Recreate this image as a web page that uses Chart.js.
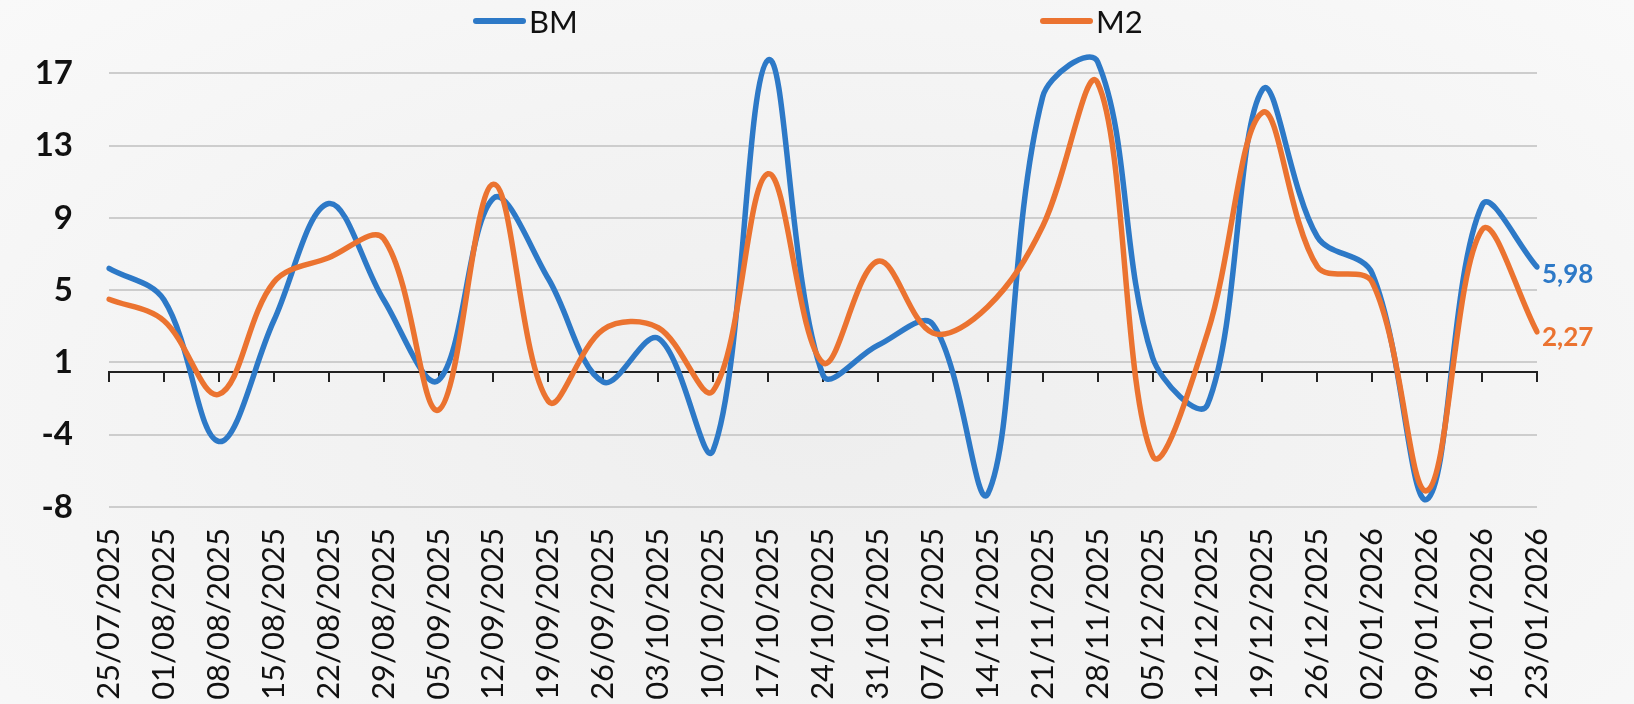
<!DOCTYPE html>
<html>
<head>
<meta charset="utf-8">
<script src="https://cdn.jsdelivr.net/npm/chart.js@4.4.1/dist/chart.umd.min.js"></script>
<style>
  html, body { margin: 0; padding: 0; }
  body {
    width: 1634px; height: 704px; overflow: hidden;
    font-family: Lato, sans-serif;
    background: radial-gradient(ellipse at 50% 60%, #eeeeee 0%, #f3f3f3 50%, #f9f9f9 100%);
  }
  #wrap { position: relative; width: 1634px; height: 704px; }
  .legenda {
    position: absolute; top: 5px; height: 32px;
    display: flex; align-items: center;
    font-size: 31px; color: #111;
  }
  .legenda .linha {
    display: inline-block; width: 53px; height: 6px;
    border-radius: 3px; margin-right: 3px;
  }
</style>
</head>
<body>
<div id="wrap">
  <div class="legenda" style="left:473px"><span class="linha" style="background:#2D79C7"></span>BM</div>
  <div class="legenda" style="left:1040px"><span class="linha" style="background:#EB7330"></span>M2</div>
  <canvas id="grafico" width="1634" height="704"></canvas>
</div>
<script>
var datas = [
    "25/07/2025", "01/08/2025", "08/08/2025", "15/08/2025", "22/08/2025", "29/08/2025",
    "05/09/2025", "12/09/2025", "19/09/2025", "26/09/2025", "03/10/2025", "10/10/2025",
    "17/10/2025", "24/10/2025", "31/10/2025", "07/11/2025", "14/11/2025", "21/11/2025",
    "28/11/2025", "05/12/2025", "12/12/2025", "19/12/2025", "26/12/2025", "02/01/2026",
    "09/01/2026", "16/01/2026", "23/01/2026"
];

var serieBM = [5.9, 4.1, -4.0, 2.9, 9.6, 4.1, -0.5, 9.9, 5.3, -0.6, 1.9, -4.5, 17.8, -0.2,
    1.5, 2.7, -7.0, 15.7, 17.7, 0.8, -1.9, 16.1, 7.7, 5.6, -7.3, 9.5, 5.98];

var serieM2 = [4.13, 2.9, -1.3, 5.1, 6.5, 7.6, -2.2, 10.7, -1.7, 2.4, 2.5, -1.1, 11.3, 0.5,
    6.3, 2.2, 3.7, 8.3, 16.5, -4.8, 2.2, 14.8, 6.0, 5.1, -6.8, 8.1, 2.27];

// linhas de grade do eixo Y e os rotulos que aparecem nelas
var marcasY = [-7.74, -3.61, 0.52, 4.65, 8.78, 12.91, 17.04];
var rotulosY = ["-8", "-4", "1", "5", "9", "13", "17"];

var azul = "#2D79C7";
var laranja = "#EB7330";

// escreve o ultimo valor de cada serie ao lado do fim da linha
var rotuloFinal = {
    id: "rotuloFinal",
    afterDatasetsDraw: function (chart) {
        var ctx = chart.ctx;
        ctx.save();
        ctx.font = "bold 26px Lato";
        ctx.textAlign = "left";
        ctx.textBaseline = "middle";
        chart.data.datasets.forEach(function (ds, i) {
            var meta = chart.getDatasetMeta(i);
            var ponto = meta.data[meta.data.length - 1];
            var valor = ds.data[ds.data.length - 1];
            ctx.fillStyle = ds.borderColor;
            ctx.fillText(valor.toFixed(2).replace(".", ","), ponto.x + 5, ponto.y + ds.rotuloDy);
        });
        ctx.restore();
    }
};

Chart.defaults.font.family = "Lato";

new Chart(document.getElementById("grafico"), {
    type: "line",
    data: {
        labels: datas,
        datasets: [{
            label: "BM",
            data: serieBM,
            borderColor: azul,
            borderWidth: 5.5,
            tension: 0.36,
            pointRadius: 0,
            borderCapStyle: "round",
            borderJoinStyle: "round",
            order: 1,
            rotuloDy: 8
        }, {
            label: "M2",
            data: serieM2,
            borderColor: laranja,
            borderWidth: 5.5,
            tension: 0.36,
            pointRadius: 0,
            borderCapStyle: "round",
            borderJoinStyle: "round",
            order: 0,
            rotuloDy: 6
        }]
    },
    options: {
        responsive: false,
        animation: false,
        layout: { padding: { top: 45, right: 97, bottom: 0, left: 0 } },
        plugins: {
            legend: { display: false },
            tooltip: { enabled: false }
        },
        scales: {
            x: {
                type: "category",
                position: "bottom",
                offset: false,
                grid: { display: false, drawTicks: false },
                border: { display: false },
                ticks: {
                    autoSkip: false,
                    minRotation: 90,
                    maxRotation: 90,
                    padding: 13,
                    color: "#111",
                    font: { size: 31 }
                },
                afterFit: function (s) { s.height = 189; }
            },
            // linha do zero com as marcas de cada semana
            x2: {
                type: "category",
                axis: "x",
                labels: datas,
                offset: false,
                position: { y: 0 },
                grid: { drawOnChartArea: false, drawTicks: true, tickLength: 9, color: "#222", lineWidth: 2 },
                border: { display: true, color: "#222", width: 2 },
                ticks: { display: false },
                afterFit: function (s) { s.height = 0; s.paddingLeft = 0; s.paddingRight = 0; }
            },
            y: {
                min: -8.2,
                max: 18.66,
                afterBuildTicks: function (s) {
                    s.ticks = marcasY.map(function (v) { return { value: v }; });
                },
                grid: { color: "#cdcdcd", lineWidth: 2, drawTicks: false },
                border: { display: false },
                ticks: {
                    padding: 36,
                    color: "#111",
                    font: { size: 33, weight: "bold" },
                    callback: function (v, i) { return rotulosY[i]; }
                },
                afterFit: function (s) {
                    s.width = 109;
                    s.paddingTop = 0;
                    s.paddingBottom = 0;
                }
            }
        }
    },
    plugins: [rotuloFinal]
});
</script>
</body>
</html>
